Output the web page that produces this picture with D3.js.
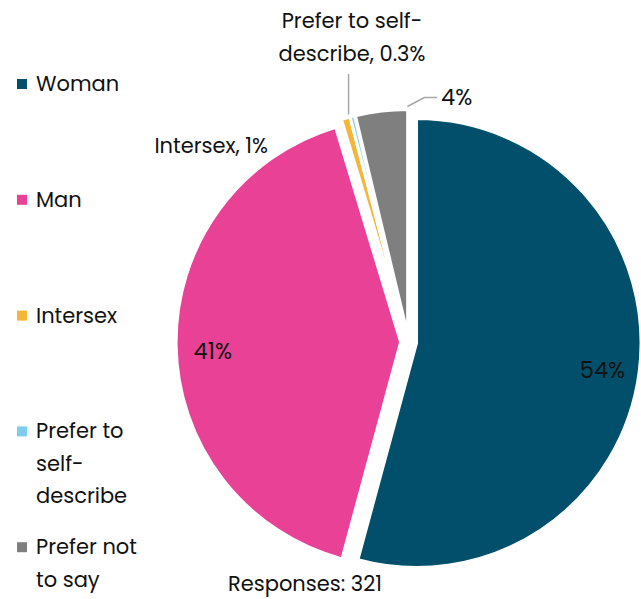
<!DOCTYPE html>
<html>
<head>
<meta charset="utf-8">
<script src="https://cdn.jsdelivr.net/npm/d3@7/dist/d3.min.js"></script>
<style>
  html, body { margin: 0; padding: 0; background: #fff; }
  svg { display: block; font-family: Poppins, Inter, "Noto Sans", sans-serif; }
</style>
</head>
<body>
<svg id="chart" width="641" height="599"></svg>
<script>
// Gender of respondents (counts)
const categories = ["Woman", "Man", "Intersex", "Prefer to self-describe", "Prefer not to say"];
const counts = [174, 132, 2, 1, 12];
const colors = ["#014f6b", "#e84196", "#f7b538", "#7fcdee", "#7f7f7f"];

const W = 641, H = 599;
const svg = d3.select("#chart");

const total = d3.sum(counts);
const cx = 408.6, cy = 342, R = 224.5, explode = 8;

const fmtPct = v => {
  const p = v / total * 100;
  return (p < 0.5 ? p.toFixed(1) : Math.round(p).toString()) + "%";
};

const pie = d3.pie().sort(null).value(d => d.value);
const arcs = pie(categories.map((c, i) => ({ name: c, value: counts[i], color: colors[i] })));
const arc = d3.arc().innerRadius(0).outerRadius(R);

const mid = a => (a.startAngle + a.endAngle) / 2;
const dir = ang => [Math.sin(ang), -Math.cos(ang)];
// point at distance rho from the pie centre along angle ang
const polar = (ang, rho) => [cx + rho * Math.sin(ang), cy - rho * Math.cos(ang)];

const g = svg.append("g").attr("transform", `translate(${cx},${cy})`);
g.selectAll("path.slice")
  .data(arcs)
  .join("path")
  .attr("class", "slice")
  .attr("d", arc)
  .attr("fill", d => d.data.color)
  .attr("stroke", "#fff")
  .attr("stroke-width", 3)
  .attr("stroke-linejoin", "miter")
  .attr("transform", d => {
    const [dx, dy] = dir(mid(d));
    return `translate(${dx * explode},${dy * explode})`;
  });

const textColor = "#111";
const fontSize = 21;
const numSize = 22.5;

// Inside labels for the two large slices
const insideShift = [0.016, -0.035];
[0, 1].forEach(i => {
  const a = arcs[i];
  const [x, y] = polar(mid(a) + insideShift[i], 196);
  svg.append("text")
    .attr("x", x).attr("y", y + 7.5)
    .attr("text-anchor", "middle")
    .attr("font-size", numSize)
    .attr("fill", textColor)
    .text(fmtPct(a.value));
});

const leaderColor = "#a6a6a6";

// Intersex label
svg.append("text")
  .attr("x", 268).attr("y", 153)
  .attr("text-anchor", "end")
  .attr("font-size", fontSize).attr("fill", textColor)
  .text(`${categories[2]}, ${fmtPct(arcs[2].value)}`);

// Self-describe label with vertical leader
{
  const a = arcs[3];
  const p = polar(mid(a), R + explode + 3);
  svg.append("path")
    .attr("d", `M${p[0] - 3},${p[1] + 1}V74`)
    .attr("fill", "none").attr("stroke", leaderColor).attr("stroke-width", 1.5);
  const t = svg.append("text")
    .attr("text-anchor", "middle")
    .attr("font-size", fontSize).attr("fill", textColor);
  t.append("tspan").attr("x", 352).attr("y", 28).text("Prefer to self-");
  t.append("tspan").attr("x", 352).attr("y", 61).text(`describe, ${fmtPct(a.value)}`);
}

// Prefer not to say label with elbow leader
{
  const a = arcs[4];
  const p = polar(a.endAngle - 0.005, R + explode + 3);
  svg.append("path")
    .attr("d", `M${p[0]},${p[1]}L${p[0] + 17},${p[1] - 9}H437`)
    .attr("fill", "none").attr("stroke", leaderColor).attr("stroke-width", 1.5);
  svg.append("text")
    .attr("x", 441).attr("y", 105)
    .attr("font-size", numSize).attr("fill", textColor)
    .text(fmtPct(a.value));
}

// Total
svg.append("text")
  .attr("x", 305).attr("y", 591)
  .attr("text-anchor", "middle")
  .attr("font-size", fontSize).attr("fill", textColor)
  .text(`Responses: ${total}`);

// Legend
const legendLines = [["Woman"], ["Man"], ["Intersex"], ["Prefer to", "self-", "describe"], ["Prefer not", "to say"]];
const legend = svg.append("g");
categories.forEach((c, i) => {
  const base = 91 + i * 115.8;
  legend.append("rect")
    .attr("x", 17).attr("y", base - 12)
    .attr("width", 10).attr("height", 10)
    .attr("fill", colors[i]);
  const t = legend.append("text")
    .attr("font-size", fontSize).attr("fill", textColor);
  legendLines[i].forEach((ln, j) => {
    t.append("tspan").attr("x", 36).attr("y", base + j * 32.5).text(ln);
  });
});
</script>
</body>
</html>
